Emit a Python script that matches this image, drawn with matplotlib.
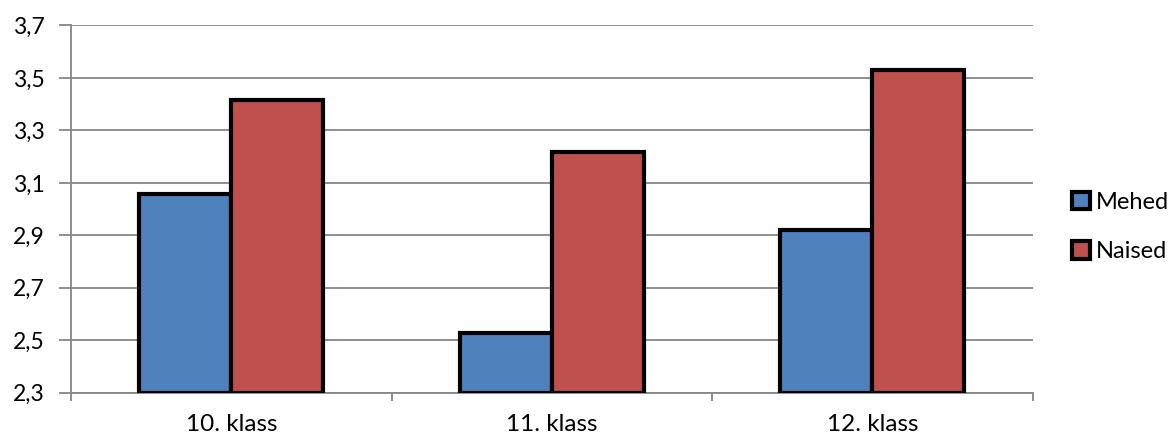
import matplotlib
matplotlib.use("Agg")
import matplotlib.pyplot as plt
import numpy as np

categories = ["10. klass", "11. klass", "12. klass"]
mehed = [3.058, 2.529, 2.921]
naised = [3.417, 3.216, 3.531]
series_names = ["Mehed", "Naised"]
yticks = [2.3, 2.5, 2.7, 2.9, 3.1, 3.3, 3.5, 3.7]
ytick_labels = ["2,3", "2,5", "2,7", "2,9", "3,1", "3,3", "3,5", "3,7"]

plt.rcParams['font.family'] = ['Lato', 'DejaVu Sans']

fig = plt.figure(figsize=(11.76, 4.38), dpi=100)
ax = fig.add_axes([0.0604, 0.1034, 0.8176, 0.8384])

x = np.arange(len(categories))
w = 0.287
base = 2.3
ax.bar(x - w/2, np.array(mehed) - base, w, bottom=base, color="#4F81BD",
       edgecolor="black", linewidth=3, zorder=3, label=series_names[0])
ax.bar(x + w/2, np.array(naised) - base, w, bottom=base, color="#C0504D",
       edgecolor="black", linewidth=3, zorder=3, label=series_names[1])

ax.set_xlim(-0.5, 2.5)
ax.set_ylim(2.3, 3.7)
ax.set_yticks(yticks)
ax.set_yticklabels(ytick_labels)
ax.yaxis.grid(True, color="#868686", linewidth=1.3, zorder=0)
ax.set_axisbelow(True)

ax.set_xticks(x)
ax.set_xticklabels(categories)
ax.set_xticks([-0.5, 0.5, 1.5, 2.5], minor=True)
ax.tick_params(axis='x', which='major', length=0, pad=15, labelsize=17.5)
ax.tick_params(axis='x', which='minor', length=6, color="#868686", width=1.3)
ax.tick_params(axis='y', length=9, color="#868686", width=1.3, labelsize=16.5, pad=10)

for s in ["top", "right"]:
    ax.spines[s].set_visible(False)
for s in ["left", "bottom"]:
    ax.spines[s].set_color("#868686")
    ax.spines[s].set_linewidth(1.3)

leg = fig.legend(loc="center left", bbox_to_anchor=(1072/1176, 1 - 227/438),
                 bbox_transform=fig.transFigure, frameon=False,
                 fontsize=17, handlelength=0.75, handleheight=0.75,
                 handletextpad=0.25, labelspacing=1.2, borderaxespad=0, borderpad=0)

fig.savefig("out.png", dpi=100)
